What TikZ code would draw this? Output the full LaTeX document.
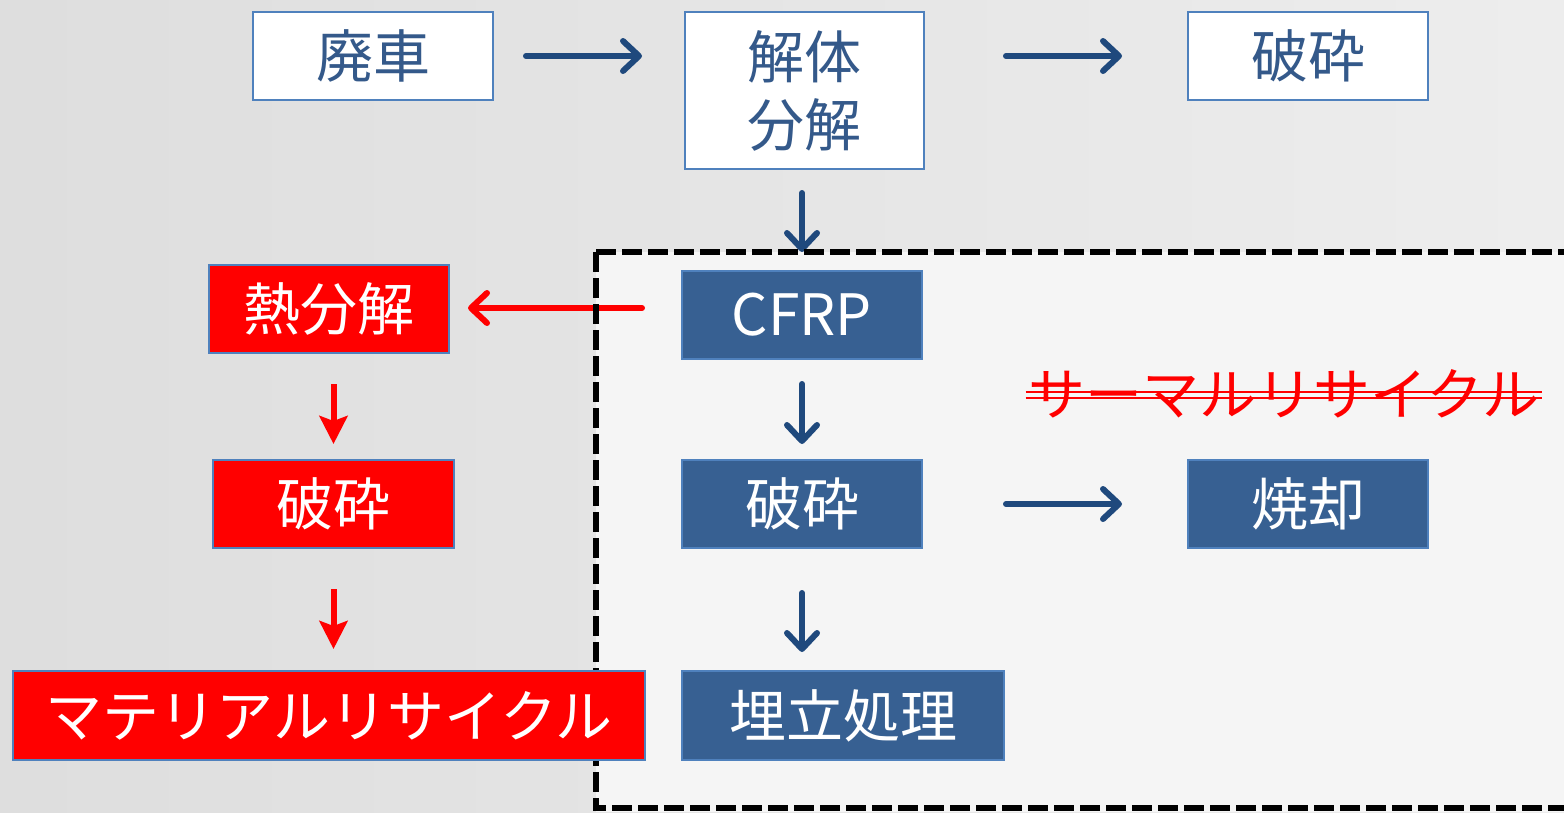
\documentclass[tikz,border=0pt]{standalone}
\usepackage{fontspec}
\setmainfont{Noto Sans CJK JP}
\usetikzlibrary{arrows.meta,positioning,calc}
\definecolor{bdr}{HTML}{4F81BD}
\definecolor{fillb}{HTML}{376092}
\definecolor{arrb}{HTML}{1F497D}
\definecolor{txtb}{HTML}{34598A}
\definecolor{rd}{HTML}{FF0000}
\pgfdeclarelayer{bg}
\pgfdeclarelayer{arr}
\pgfdeclarelayer{dash}
\pgfsetlayers{bg,arr,dash,main}
\begin{document}
\begin{tikzpicture}[x=1pt,y=-1pt,
  box/.style={draw=bdr,line width=2pt,minimum width=240pt,minimum height=88pt,inner sep=0pt,
    font=\fontsize{57}{62}\selectfont},
  wbox/.style={box,fill=white,text=txtb},
  bbox/.style={box,fill=fillb,text=white},
  rbox/.style={box,fill=rd,text=white},
  barr/.style={draw=arrb,line width=6pt,line cap=round,-{Straight Barb[length=16pt,width=30pt,round]}},
  rarr/.style={draw=rd,line width=6pt,line cap=round,-{Straight Barb[length=16pt,width=30pt,round]}},
  rdarr/.style={draw=rd,line width=6pt,-{Stealth[length=28pt,width=28pt,inset=5pt]}}
]
\useasboundingbox (0,0) rectangle (1564,812);
\begin{pgfonlayer}{bg}
\shade[left color=black!13,right color=black!7] (0,0) rectangle (1564,812);
\fill[black!4] (596,252) rectangle (1580,812);
\end{pgfonlayer}

\node[wbox] (haisha) at (373,56) {廃車};
\node[wbox,minimum width=239pt,minimum height=157pt,align=center,
  font=\fontsize{57}{68}\selectfont] (kaitai) at (804.5,90.5) {解体\\分解};
\node[wbox] (hasaiA) at (1308,56) {破砕};
\node[bbox] (cfrp) at (802,315) {CFRP};
\node[rbox] (netsu) at (329,309) {熱分解};
\node[rbox,minimum width=241pt] (hasaiR) at (333.5,504) {破砕};
\node[rbox,minimum width=632pt,minimum height=89pt] (mat) at (329,715.5) {マテリアルリサイクル};
\node[bbox] (hasaiB) at (802,504) {破砕};
\node[bbox] (shok) at (1308,504) {焼却};
\node[bbox,minimum width=322pt,minimum height=89pt] (ume) at (843,715.5) {埋立処理};
\node[text=rd,inner sep=0pt,font=\fontsize{57}{60}\selectfont] (therm) at (1284,394) {サーマルリサイクル};

\begin{pgfonlayer}{arr}
\draw[barr,shorten <=32pt,shorten >=42pt] (haisha.east) -- (haisha.east -| kaitai.west);
\draw[barr,shorten <=81pt,shorten >=65pt] (kaitai.east |- hasaiA.west) -- (hasaiA.west);
\draw[barr,shorten <=23pt,shorten >=18pt] (kaitai.south -| cfrp.north) -- (cfrp.north);
\draw[rarr,shorten <=39pt,shorten >=18pt] ($(cfrp.west)+(0,-7)$) -- (netsu.east |- 0,308);
\draw[barr,shorten <=24pt,shorten >=15pt] (cfrp.south) -- (hasaiB.north);
\draw[barr,shorten <=83pt,shorten >=65pt] (hasaiB.east) -- (shok.west);
\draw[barr,shorten <=44pt,shorten >=18pt] (hasaiB.south) -- (hasaiB.south |- ume.north);
\draw[rdarr,shorten <=30pt,shorten >=15pt] (netsu.south -| hasaiR.north) -- (hasaiR.north);
\draw[rdarr,shorten <=40pt,shorten >=21pt] (hasaiR.south) -- (hasaiR.south |- mat.north);
\end{pgfonlayer}

\begin{pgfonlayer}{dash}
\draw[black,line width=6pt,dash pattern=on 20pt off 6pt] (596,252) -- (1580,252);
\draw[black,line width=6pt,dash pattern=on 20pt off 6pt] (596,252) -- (596,808) -- (1580,808);
\end{pgfonlayer}

\draw[rd,line width=2pt] ($(therm.west)+(-3,-2)$) -- ($(therm.east)+(3,-2)$);
\draw[rd,line width=2pt] ($(therm.west)+(-3,4)$) -- ($(therm.east)+(3,4)$);
\end{tikzpicture}
\end{document}
